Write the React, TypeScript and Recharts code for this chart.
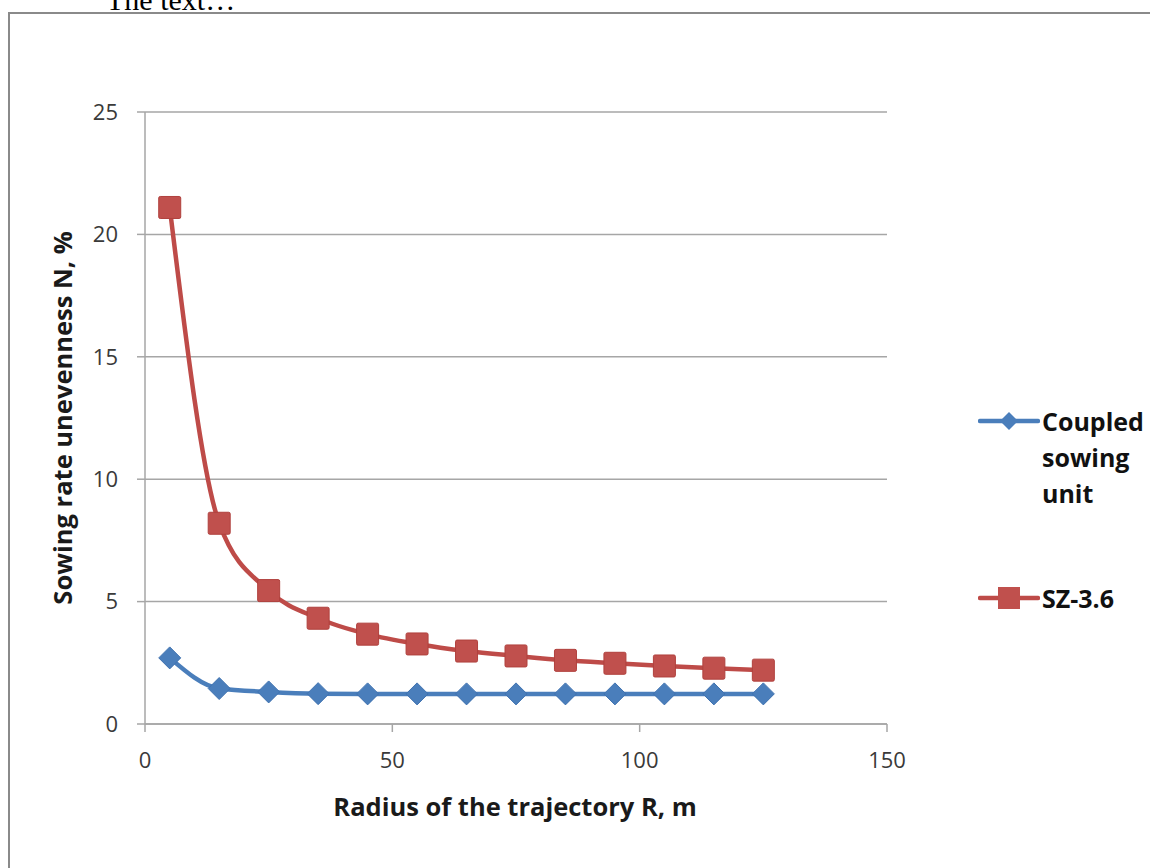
import { LineChart, Line, XAxis, YAxis, CartesianGrid } from "recharts";

const radius = [5, 15, 25, 35, 45, 55, 65, 75, 85, 95, 105, 115, 125];
const coupled = [2.7, 1.45, 1.31, 1.24, 1.23, 1.23, 1.23, 1.23, 1.23, 1.23, 1.23, 1.23, 1.23];
const sz36 = [21.1, 8.2, 5.45, 4.32, 3.67, 3.27, 2.98, 2.78, 2.6, 2.48, 2.37, 2.28, 2.2];
const xTicks = [0, 50, 100, 150];
const yTicks = [0, 5, 10, 15, 20, 25];

const data = radius.map((r, i) => ({ r, coupled: coupled[i], sz: sz36[i] }));

const BLUE = "#4a7ebb";
const RED = "#be4b48";
const GRID = "#a6a6a6";
const FONT = "'Open Sans', sans-serif";

const Diamond = (props: any) => {
  const { cx, cy } = props;
  if (cx == null || cy == null) return null;
  const s = 11;
  return (
    <polygon
      key={`d-${cx}`}
      points={`${cx},${cy - s} ${cx + s},${cy} ${cx},${cy + s} ${cx - s},${cy}`}
      fill={BLUE}
      stroke="#3f72b0"
      strokeWidth={1}
    />
  );
};

const Square = (props: any) => {
  const { cx, cy } = props;
  if (cx == null || cy == null) return null;
  const s = 11;
  return (
    <rect
      key={`s-${cx}`}
      x={cx - s}
      y={cy - s}
      width={s * 2}
      height={s * 2}
      rx={1.5}
      fill="#c0504d"
      stroke="#b0403d"
      strokeWidth={1}
    />
  );
};

export default function App() {
  return (
    <div style={{ position: "fixed", left: 0, top: 0, width: 1150, height: 868, overflow: "hidden", background: "#fff" }}>
      <div
        style={{
          position: "absolute",
          left: 106,
          top: -17,
          fontFamily: "'Liberation Serif', 'Times New Roman', serif",
          fontSize: 30,
          color: "#000",
          whiteSpace: "nowrap",
        }}
      >
        The text…
      </div>
      <div
        style={{
          position: "absolute",
          left: 8,
          top: 12,
          width: 1200,
          height: 900,
          border: "2.5px solid #8a8a8a",
          boxSizing: "border-box",
        }}
      />
      <div style={{ position: "absolute", left: 0, top: 0 }}>
        <LineChart
          width={1150}
          height={868}
          data={data}
          margin={{ top: 112, right: 263, bottom: 114, left: 85 }}
        >
          <CartesianGrid vertical={false} stroke={GRID} strokeWidth={1.5} />
          <XAxis
            dataKey="r"
            type="number"
            domain={[0, 150]}
            ticks={xTicks}
            height={30}
            stroke={GRID}
            strokeWidth={1.5}
            tickSize={8}
            tickMargin={20}
            tick={{ fill: "#3a3a3a", fontSize: 22, fontFamily: FONT }}
          />
          <YAxis
            type="number"
            domain={[0, 25]}
            ticks={yTicks}
            width={60}
            stroke={GRID}
            strokeWidth={1.5}
            tickSize={8}
            tickMargin={19}
            tick={{ fill: "#3a3a3a", fontSize: 22, fontFamily: FONT }}
          />
          <Line
            dataKey="coupled"
            type="monotone"
            stroke={BLUE}
            strokeWidth={4.5}
            dot={Diamond}
            activeDot={false}
            isAnimationActive={false}
          />
          <Line
            dataKey="sz"
            type="monotone"
            stroke={RED}
            strokeWidth={4.5}
            dot={Square}
            activeDot={false}
            isAnimationActive={false}
          />
        </LineChart>
      </div>
      <div
        style={{
          position: "absolute",
          left: 62,
          top: 418,
          transform: "translate(-50%, -50%) rotate(-90deg)",
          fontFamily: FONT,
          fontWeight: 700,
          fontSize: 25.5,
          color: "#1a1a1a",
          whiteSpace: "nowrap",
        }}
      >
        Sowing rate unevenness N, %
      </div>
      <div
        style={{
          position: "absolute",
          left: 515,
          top: 806,
          transform: "translate(-50%, -50%)",
          fontFamily: FONT,
          fontWeight: 700,
          fontSize: 25.5,
          color: "#1a1a1a",
          whiteSpace: "nowrap",
        }}
      >
        Radius of the trajectory R, m
      </div>
      <div style={{ position: "absolute", left: 978, top: 403, fontFamily: FONT, fontWeight: 700, fontSize: 25, color: "#111" }}>
        <div style={{ display: "flex", alignItems: "flex-start" }}>
          <svg width={62} height={36}>
            <line x1={2} y1={18} x2={60} y2={18} stroke={BLUE} strokeWidth={4.5} strokeLinecap="round" />
            <polygon points="31,9 40,18 31,27 22,18" fill={BLUE} />
          </svg>
          <div style={{ lineHeight: "36px", marginLeft: 2, whiteSpace: "nowrap" }}>
            Coupled
            <br />
            sowing
            <br />
            unit
          </div>
        </div>
        <div style={{ display: "flex", alignItems: "flex-start", marginTop: 69 }}>
          <svg width={62} height={36}>
            <line x1={2} y1={18} x2={60} y2={18} stroke={RED} strokeWidth={4.5} strokeLinecap="round" />
            <rect x={20} y={7} width={22} height={22} fill="#c0504d" />
          </svg>
          <div style={{ lineHeight: "36px", marginLeft: 2, whiteSpace: "nowrap" }}>SZ-3.6</div>
        </div>
      </div>
    </div>
  );
}
